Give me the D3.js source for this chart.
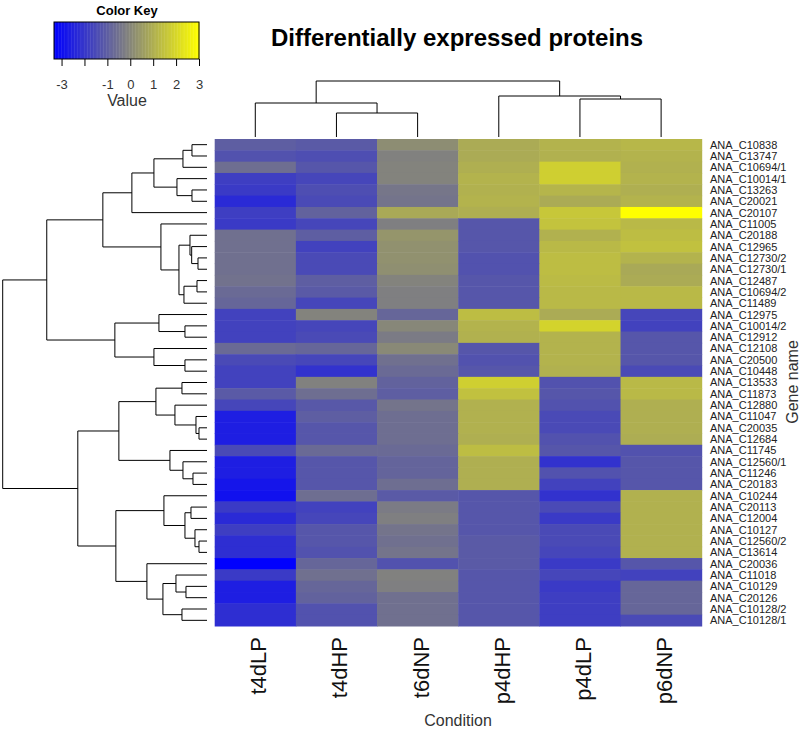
<!DOCTYPE html>
<html>
<head>
<meta charset="utf-8">
<script src="https://cdn.jsdelivr.net/npm/d3@7"></script>
<style>
  body { margin: 0; background: #fff; }
  svg { font-family: "Liberation Sans", Arial, sans-serif; }
</style>
</head>
<body>
<script>
// conditions (columns) in the order they are drawn
var conditions = ["t4dLP", "t4dHP", "t6dNP", "p4dHP", "p4dLP", "p6dNP"];

// genes (rows) top to bottom
var genes = ["ANA_C10838", "ANA_C13747", "ANA_C10694/1", "ANA_C10014/1", "ANA_C13263",
  "ANA_C20021", "ANA_C20107", "ANA_C11005", "ANA_C20188", "ANA_C12965", "ANA_C12730/2",
  "ANA_C12730/1", "ANA_C12487", "ANA_C10694/2", "ANA_C11489", "ANA_C12975", "ANA_C10014/2",
  "ANA_C12912", "ANA_C12108", "ANA_C20500", "ANA_C10448", "ANA_C13533", "ANA_C11873",
  "ANA_C12880", "ANA_C11047", "ANA_C20035", "ANA_C12684", "ANA_C11745", "ANA_C12560/1",
  "ANA_C11246", "ANA_C20183", "ANA_C10244", "ANA_C20113", "ANA_C12004", "ANA_C10127",
  "ANA_C12560/2", "ANA_C13614", "ANA_C20036", "ANA_C11018", "ANA_C10129", "ANA_C20126",
  "ANA_C10128/2", "ANA_C10128/1"];

// row-scaled values, one line per gene, columns as in conditions
var values = [
  [-1.0, -1.1,  0.15,  0.9,  1.1,  1.2],
  [-1.3, -1.4, -0.15,  0.9,  1.05, 1.1],
  [-0.6, -1.2, -0.1,   1.0,  1.8,  1.05],
  [-1.8, -1.6, -0.1,   1.1,  1.8,  1.1],
  [-1.9, -1.4, -0.4,   1.05, 1.15, 1.0],
  [-2.3, -1.5, -0.45,  1.1,  0.9,  1.1],
  [-1.8, -0.9,  0.85,  1.0,  1.6,  3.0],
  [-1.9, -1.6, -0.2,  -1.2,  1.5,  1.25],
  [-0.55,-1.0,  0.35, -1.2,  1.05, 1.35],
  [-0.55,-1.7,  0.25, -1.2,  1.25, 1.45],
  [-0.55,-1.5,  0.25, -1.3,  1.35, 1.1],
  [-0.55,-1.5,  0.2,  -1.3,  1.35, 0.85],
  [-0.5, -1.0, -0.1,  -1.2,  1.3,  0.9],
  [-0.7, -1.1, -0.2,  -1.2,  1.25, 1.25],
  [-0.8, -1.6, -0.2,  -1.2,  1.25, 1.25],
  [-1.7, -0.1, -0.8,   1.35, 0.9, -1.6],
  [-1.7, -1.6,  0.0,   1.1,  1.9, -1.7],
  [-1.7, -1.5, -0.3,   1.05, 1.1, -1.2],
  [-0.7, -0.8,  0.05, -1.2,  1.1, -1.2],
  [-1.5, -1.6, -0.55, -1.3,  1.1, -1.2],
  [-1.7, -2.1, -0.7,  -1.2,  1.05,-1.5],
  [-1.7, -0.15,-0.9,   1.8, -1.3,  1.25],
  [-1.1, -0.6, -1.0,   1.45,-1.2,  1.25],
  [-1.6, -1.15,-0.45,  1.05,-1.3,  1.0],
  [-2.6, -1.0, -0.6,   1.05,-1.5,  1.0],
  [-2.6, -1.2, -0.6,   1.05,-1.5,  1.0],
  [-2.6, -1.2, -0.6,   1.0, -1.3,  0.95],
  [-1.5, -0.7, -0.7,   1.35,-1.2, -1.3],
  [-2.6, -1.2, -0.85,  1.0, -2.1, -1.2],
  [-2.6, -1.2, -0.85,  1.0, -1.3, -1.2],
  [-2.8, -1.2, -0.6,   1.0, -1.7, -1.2],
  [-2.9, -0.6, -1.1,  -1.2, -2.1,  1.05],
  [-1.9, -1.7, -0.3,  -1.2, -1.5,  1.05],
  [-2.3, -1.6, -0.2,  -1.2, -1.9,  1.05],
  [-1.8, -1.2, -0.45, -1.2, -1.5,  1.05],
  [-2.2, -1.2, -0.55, -1.1, -1.5,  1.05],
  [-2.2, -1.3, -0.45, -1.1, -1.6,  1.05],
  [-3.3, -0.8, -1.3,  -1.1, -1.9, -1.2],
  [-1.9, -0.55,-0.15, -1.2, -1.6, -1.7],
  [-2.6, -0.8, -0.2,  -1.2, -1.9, -0.8],
  [-2.6, -0.9, -0.55, -1.2, -1.8, -0.8],
  [-2.2, -1.3, -0.55, -1.2, -1.8, -0.8],
  [-2.2, -1.3, -0.55, -1.2, -1.8, -1.5]
];

// colour key range and ticks
var keyMin = -3.33, keyMax = 3;
var keyTicks = [-3, -2, -1, 0, 1, 2, 3];
var keyTickLabels = ["-3", "", "-1", "0", "1", "2", "3"];

// dendrograms: a leaf is a row/column index, a node is [left, right, height]
var rowTree = [
  [
    [
      [[[[0, 1, 15], 2, 24], [3, [4, 5, 15], 30], 53], 6, 75],
      [7, [[8, [9, [10, 11, 9], 15.3], 17], [[12, 13, 10], 14, 23], 28], 46],
      104
    ],
    [[15, [16, 17, 22], 48], [18, [19, 20, 22], 53], 92],
    160
  ],
  [
    [[[21, 22, 25], [23, [24, [25, 26, 8], 11], 32], 51], [27, [28, [29, 30, 14], 24], 37], 88],
    [[31, [[32, 33, 16], [34, [35, 36, 8], 12], 22], 43],
     [37, [[38, [39, 40, 21], 31], [41, 42, 25], 44], 60], 91],
    129
  ],
  204
];
var colTree = [[0, [1, 2, 24], 34], [3, [4, 5, 38], 41], 56];

var width = 800, height = 729;
var svg = d3.select("body").append("svg")
  .attr("width", width)
  .attr("height", height);

// heatmap scales
var x = d3.scaleBand().domain(d3.range(conditions.length)).range([214.7, 701.7]);
var y = d3.scaleBand().domain(d3.range(genes.length)).range([139, 626]);
var color = d3.scaleLinear()
  .domain([keyMin, (keyMin + keyMax) / 2, keyMax])
  .range(["#0000ff", "#808080", "#ffff00"]);

// cells
var cells = [];
values.forEach(function(row, i) {
  row.forEach(function(v, j) { cells.push({ r: i, c: j, v: v }); });
});
svg.append("g").selectAll("rect")
  .data(cells)
  .enter()
  .append("rect")
  .attr("x", function(d) { return x(d.c); })
  .attr("y", function(d) { return y(d.r); })
  .attr("width", x.bandwidth() + 0.5)
  .attr("height", y.bandwidth() + 0.5)
  .attr("fill", function(d) { return color(d.v); });

// row labels
svg.append("g").selectAll("text")
  .data(genes)
  .enter()
  .append("text")
  .attr("x", 710)
  .attr("y", function(d, i) { return y(i) + y.bandwidth() / 2; })
  .attr("dy", "0.36em")
  .attr("font-size", 11)
  .attr("fill", "#222")
  .text(function(d) { return d; });

// column labels, rotated
svg.append("g").selectAll("text")
  .data(conditions)
  .enter()
  .append("text")
  .attr("transform", function(d, i) {
    return "translate(" + (x(i) + x.bandwidth() / 2 + 11) + ",637) rotate(-90)";
  })
  .attr("text-anchor", "end")
  .attr("font-size", 22)
  .attr("fill", "#111")
  .text(function(d) { return d; });

svg.append("text")
  .attr("x", 458).attr("y", 726)
  .attr("text-anchor", "middle")
  .attr("font-size", 16)
  .attr("fill", "#333")
  .text("Condition");

svg.append("text")
  .attr("transform", "translate(798,382) rotate(-90)")
  .attr("text-anchor", "middle")
  .attr("font-size", 16)
  .attr("fill", "#333")
  .text("Gene name");

// title
svg.append("text")
  .attr("x", 457).attr("y", 46)
  .attr("text-anchor", "middle")
  .attr("font-size", 24)
  .attr("font-weight", "bold")
  .attr("fill", "#000")
  .text("Differentially expressed proteins");

// dendrogram drawing: returns the centre position and height of a node
function drawTree(g, node, leafPos, hPos, horizontal) {
  function walk(n) {
    if (typeof n === "number") return { p: leafPos(n), h: 0 };
    var a = walk(n[0]), b = walk(n[1]), h = n[2];
    var segs = [[a.p, a.h, a.p, h], [b.p, b.h, b.p, h], [a.p, h, b.p, h]];
    segs.forEach(function(s) {
      var line = g.append("line").attr("stroke", "#000").attr("stroke-width", 1);
      if (horizontal) {
        line.attr("x1", hPos(s[1])).attr("y1", s[0]).attr("x2", hPos(s[3])).attr("y2", s[2]);
      } else {
        line.attr("x1", s[0]).attr("y1", hPos(s[1])).attr("x2", s[2]).attr("y2", hPos(s[3]));
      }
    });
    return { p: (a.p + b.p) / 2, h: h };
  }
  walk(node);
}

var rowH = d3.scaleLinear().domain([0, 204]).range([207, 2.7]);
drawTree(svg.append("g"), rowTree,
  function(i) { return y(i) + y.bandwidth() / 2; }, rowH, true);

var colH = d3.scaleLinear().domain([0, 56]).range([137, 81]);
drawTree(svg.append("g"), colTree,
  function(j) { return x(j) + x.bandwidth() / 2; }, colH, false);

// colour key
var keyX = d3.scaleLinear().domain([keyMin, keyMax]).range([54, 199]);
var keyG = svg.append("g");
var steps = d3.range(0, 100);
keyG.selectAll("rect")
  .data(steps)
  .enter()
  .append("rect")
  .attr("x", function(d) { return keyX(keyMin + d * (keyMax - keyMin) / 100); })
  .attr("y", 22)
  .attr("width", (199 - 54) / 100 + 0.4)
  .attr("height", 37)
  .attr("fill", function(d) { return color(keyMin + (d + 0.5) * (keyMax - keyMin) / 100); });
keyG.append("rect")
  .attr("x", 54).attr("y", 22).attr("width", 145).attr("height", 37)
  .attr("fill", "none").attr("stroke", "#000").attr("stroke-width", 1);

var keyAxis = svg.append("g")
  .attr("transform", "translate(0,59)")
  .call(d3.axisBottom(keyX)
    .tickValues(keyTicks)
    .tickSize(7)
    .tickPadding(14)
    .tickFormat(function(d, i) { return keyTickLabels[i]; }));
keyAxis.select(".domain").remove();
keyAxis.selectAll("text").attr("font-size", 13).attr("fill", "#333")
  .attr("font-family", "Liberation Sans, Arial, sans-serif");

svg.append("text")
  .attr("x", 127).attr("y", 15)
  .attr("text-anchor", "middle")
  .attr("font-size", 13)
  .attr("font-weight", "bold")
  .text("Color Key");

svg.append("text")
  .attr("x", 127).attr("y", 106)
  .attr("text-anchor", "middle")
  .attr("font-size", 16)
  .attr("fill", "#333")
  .text("Value");
</script>
</body>
</html>
